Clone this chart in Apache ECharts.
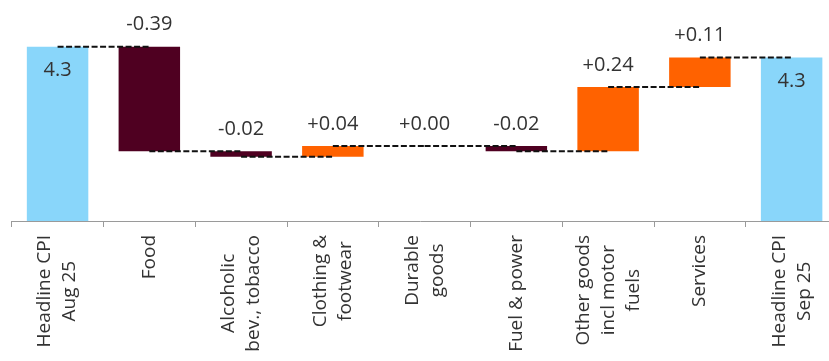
<!DOCTYPE html>
<html><head><meta charset="utf-8">
<script src="https://cdn.jsdelivr.net/npm/echarts@6/dist/echarts.min.js"></script>
<style>html,body{margin:0;padding:0;background:#fff}#c{width:829px;height:361px}</style>
</head><body><div id="c"></div>
<script>
// ---- data ----
const categories = ['Headline CPI\nAug 25', 'Food', 'Alcoholic\nbev., tobacco', 'Clothing &\nfootwear', 'Durable\ngoods', 'Fuel & power', 'Other goods\nincl motor\nfuels', 'Services', 'Headline CPI\nSep 25'];
const startValue = 4.3;            // Headline CPI Aug 25
const contributions = [-0.39, -0.02, 0.04, 0.00, -0.02, 0.24, 0.11];

// ---- derived ----
const levels = [startValue];
contributions.forEach(c => levels.push(+(levels[levels.length - 1] + c).toFixed(4)));
const endValue = levels[levels.length - 1];

const COL_HEAD = '#89D6FA', COL_NEG = '#4F0021', COL_POS = '#FF6200';
const TXT = '#333333';

const baseData = [0];
const valueData = [{
  value: startValue,
  itemStyle: { color: COL_HEAD },
  label: { position: 'insideTop', distance: 14, formatter: startValue.toFixed(1) }
}];
contributions.forEach((c, i) => {
  baseData.push(Math.min(levels[i], levels[i + 1]));
  valueData.push({
    value: Math.abs(c),
    itemStyle: { color: c < 0 ? COL_NEG : COL_POS },
    label: { position: 'top', distance: 12, formatter: (c < 0 ? '-' : '+') + Math.abs(c).toFixed(2) }
  });
});
baseData.push(0);
valueData.push({
  value: endValue,
  itemStyle: { color: COL_HEAD },
  label: { position: 'insideTop', distance: 14, formatter: endValue.toFixed(1) }
});

const connectorData = levels.slice(0, levels.length).map((v, i) => [i, v]);

const chart = echarts.init(document.getElementById('c'), null, { renderer: 'canvas' });
chart.setOption({
  animation: false,
  backgroundColor: '#ffffff',
  grid: { left: 11.7, right: -8.5, top: 6.5, bottom: 140, containLabel: false, outerBoundsMode: 'none' },
  xAxis: {
    type: 'category',
    data: categories,
    axisLine: { lineStyle: { color: '#9a9a9a', width: 1 } },
    axisTick: { show: true, length: 6, lineStyle: { color: '#9a9a9a' } },
    axisLabel: {
      interval: 0, rotate: 90, margin: 14,
      color: TXT, fontSize: 19, lineHeight: 25, fontFamily: 'Open Sans',
      formatter: v => v.split('\n').map(s => '{c|' + s + '}').join('\n'),
      rich: { c: { align: 'center', fontSize: 19, lineHeight: 25, fontFamily: 'Open Sans', color: TXT } }
    }
  },
  yAxis: { type: 'value', min: 3.65, max: 4.45, show: false, splitLine: { show: false } },
  series: [
    {
      type: 'bar', stack: 'w', data: baseData, barWidth: '67%', clip: true,
      itemStyle: { color: 'rgba(0,0,0,0)' }, silent: true, z: 1
    },
    {
      type: 'bar', stack: 'w', data: valueData, barWidth: '67%', clip: true, z: 2,
      label: { show: true, color: TXT, fontSize: 20, fontFamily: 'Open Sans' }
    },
    {
      type: 'custom', z: 5, data: connectorData.slice(0, 8),
      renderItem: (params, api) => {
        const i = api.value(0), v = api.value(1);
        const p1 = api.coord([i, v]);
        const p2 = api.coord([i + 1, v]);
        return {
          type: 'line',
          shape: { x1: p1[0], y1: p1[1], x2: p2[0], y2: p2[1] },
          style: { stroke: '#111111', lineWidth: 2, lineDash: [6, 2.5] }
        };
      }
    }
  ]
});
</script>
</body></html>
